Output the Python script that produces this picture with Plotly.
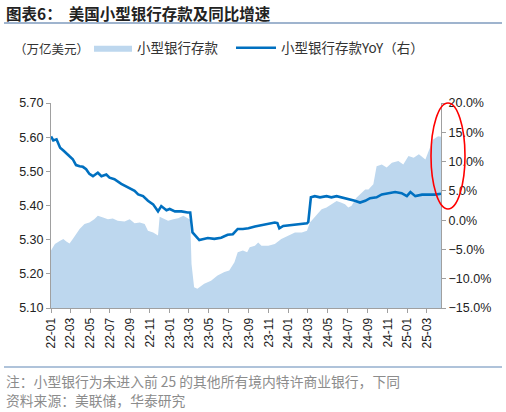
import plotly.graph_objects as go

# small bank deposits, trillion USD (left axis)
dep_dates = ["2022-01-01", "2022-01-13", "2022-01-29", "2022-02-08", "2022-02-17", "2022-02-27",
             "2022-03-09", "2022-03-19", "2022-03-30", "2022-04-14", "2022-04-29", "2022-05-14",
             "2022-05-25", "2022-06-10", "2022-06-25", "2022-07-10", "2022-07-25", "2022-08-15",
             "2022-08-31", "2022-09-15", "2022-10-01", "2022-10-16", "2022-10-26", "2022-11-11",
             "2022-11-26", "2022-12-01", "2022-12-11", "2022-12-27", "2023-01-12", "2023-01-27",
             "2023-02-12", "2023-02-27", "2023-03-05", "2023-03-09", "2023-03-17", "2023-03-27",
             "2023-04-17", "2023-05-08", "2023-05-28", "2023-06-18", "2023-07-03", "2023-07-19",
             "2023-07-29", "2023-08-14", "2023-08-27", "2023-09-04", "2023-09-20", "2023-09-30",
             "2023-10-10", "2023-10-31", "2023-11-20", "2023-12-10", "2024-01-01", "2024-01-21",
             "2024-02-11", "2024-02-27", "2024-03-07", "2024-03-22", "2024-04-12", "2024-04-27",
             "2024-05-12", "2024-05-28", "2024-06-12", "2024-06-23", "2024-07-03", "2024-07-13",
             "2024-07-28", "2024-08-13", "2024-08-24", "2024-09-03", "2024-09-18", "2024-09-28",
             "2024-10-14", "2024-10-29", "2024-11-14", "2024-12-04", "2024-12-19", "2025-01-04",
             "2025-01-20", "2025-02-05", "2025-02-25", "2025-03-11", "2025-03-21", "2025-04-05",
             "2025-04-14"]
dep_vals = [5.268, 5.287, 5.297, 5.302, 5.295, 5.289,
            5.302, 5.316, 5.331, 5.346, 5.350, 5.360,
            5.370, 5.365, 5.360, 5.362, 5.355, 5.353,
            5.360, 5.348, 5.350, 5.346, 5.326, 5.321,
            5.312, 5.367, 5.362, 5.355, 5.360, 5.363,
            5.370, 5.360, 5.358, 5.229, 5.161, 5.156,
            5.171, 5.180, 5.195, 5.205, 5.210, 5.234,
            5.263, 5.268, 5.263, 5.278, 5.282, 5.292,
            5.282, 5.282, 5.287, 5.302, 5.312, 5.321,
            5.321, 5.326, 5.350, 5.365, 5.389, 5.394,
            5.404, 5.413, 5.408, 5.404, 5.394, 5.399,
            5.423, 5.438, 5.447, 5.447, 5.462, 5.515,
            5.520, 5.511, 5.525, 5.530, 5.520, 5.545,
            5.540, 5.550, 5.535, 5.569, 5.593, 5.603,
            5.601]

# YoY growth, % (right axis)
yoy_dates = ["2022-01-01", "2022-01-08", "2022-01-18", "2022-01-29", "2022-02-08", "2022-02-17",
             "2022-02-27", "2022-03-09", "2022-03-19", "2022-03-30", "2022-04-09", "2022-04-19",
             "2022-04-29", "2022-05-10", "2022-05-25", "2022-06-05", "2022-06-20", "2022-06-30",
             "2022-07-15", "2022-08-05", "2022-08-26", "2022-09-15", "2022-09-26", "2022-10-11",
             "2022-10-26", "2022-11-11", "2022-11-26", "2022-12-06", "2022-12-22", "2023-01-01",
             "2023-01-17", "2023-02-06", "2023-02-25", "2023-03-05", "2023-03-12", "2023-04-02",
             "2023-04-28", "2023-05-18", "2023-06-08", "2023-06-28", "2023-07-14", "2023-07-29",
             "2023-08-14", "2023-08-31", "2023-09-20", "2023-10-20", "2023-11-20", "2023-11-28",
             "2023-12-04", "2023-12-16", "2024-01-11", "2024-02-01", "2024-02-27", "2024-03-02",
             "2024-03-10", "2024-03-22", "2024-04-07", "2024-04-27", "2024-05-12", "2024-05-28",
             "2024-06-12", "2024-07-03", "2024-07-23", "2024-08-08", "2024-08-24", "2024-09-08",
             "2024-09-28", "2024-10-14", "2024-11-04", "2024-11-24", "2024-12-14", "2024-12-30",
             "2025-01-10", "2025-01-25", "2025-02-15", "2025-03-05", "2025-03-26", "2025-04-14"]
yoy_vals = [14.3, 13.6, 13.8, 12.35, 11.9, 11.5,
            10.9, 10.4, 9.4, 9.2, 9.1, 8.7,
            7.9, 7.5, 8.1, 7.5, 7.8, 7.25,
            7.0, 6.2, 5.55, 5.0, 4.4, 4.1,
            3.3, 2.7, 1.5, 2.4, 1.7, 1.9,
            1.5, 1.5, 1.3, 1.3, -2.1, -3.4,
            -3.05, -3.2, -3.0, -2.5, -2.4, -1.5,
            -1.5, -1.4, -1.1, -0.7, -0.4, -0.5,
            -1.4, -1.0, -0.8, -0.7, -0.55, -0.3,
            3.9, 4.1, 3.9, 4.1, 3.9, 4.1,
            3.9, 3.6, 3.3, 3.0, 3.3, 3.75,
            3.9, 4.4, 4.6, 4.8, 4.6, 4.1,
            4.8, 4.1, 4.35, 4.35, 4.35, 4.5]

tick_vals = ["2022-01-01", "2022-03-01", "2022-05-01", "2022-07-01", "2022-09-01", "2022-11-01",
             "2023-01-01", "2023-03-01", "2023-05-01", "2023-07-01", "2023-09-01", "2023-11-01",
             "2024-01-01", "2024-03-01", "2024-05-01", "2024-07-01", "2024-09-01", "2024-11-01",
             "2025-01-01", "2025-03-01"]
tick_text = ["22-01", "22-03", "22-05", "22-07", "22-09", "22-11",
             "23-01", "23-03", "23-05", "23-07", "23-09", "23-11",
             "24-01", "24-03", "24-05", "24-07", "24-09", "24-11",
             "25-01", "25-03"]

W, H = 506, 412
ML, MR, MT, MB = 51, 65, 103, 104
pw, ph = W - ML - MR, H - MT - MB


def px(x):
    return (x - ML) / pw


def py(y):
    return (H - MB - y) / ph


num_font = "Liberation Sans, Arial, sans-serif"
cjk_font = "Noto Sans CJK SC, sans-serif"
leg_font = dict(family=cjk_font, size=13.5, color="#333")

fig = go.Figure()
fig.add_trace(go.Scatter(
    x=dep_dates, y=dep_vals, name="小型银行存款",
    mode="lines", fill="tozeroy", fillcolor="#BDD7EE",
    line=dict(width=0, color="#BDD7EE"), legend="legend",
))
fig.add_trace(go.Scatter(
    x=yoy_dates, y=yoy_vals, name="小型银行存款YoY（右）",
    mode="lines", line=dict(width=2.6, color="#0070C0"), yaxis="y2", legend="legend2",
))

axis_common = dict(showgrid=False, zeroline=False, showline=True, linecolor="#A0A0A0",
                   linewidth=1, ticks="outside", ticklen=4, tickcolor="#A0A0A0",
                   tickfont=dict(family=num_font, size=12.5, color="#222"))

fig.update_layout(
    width=W, height=H,
    margin=dict(l=ML, r=MR, t=MT, b=MB),
    paper_bgcolor="white", plot_bgcolor="white",
    xaxis=dict(axis_common, type="date", range=["2022-01-01", "2025-04-14"],
               tickvals=tick_vals, ticktext=tick_text, tickangle=-90,
               tickfont=dict(family=num_font, size=12, color="#222")),
    yaxis=dict(axis_common, range=[5.10, 5.70], dtick=0.1, tickformat=".2f"),
    yaxis2=dict(axis_common, overlaying="y", side="right", range=[-15, 20], dtick=5,
                tickformat=".1f", ticksuffix="%"),
    legend=dict(orientation="h", x=px(89), y=py(48), xanchor="left", yanchor="middle",
                itemwidth=38, font=leg_font, bgcolor="rgba(0,0,0,0)"),
    legend2=dict(orientation="h", x=px(231), y=py(48), xanchor="left", yanchor="middle",
                 itemwidth=40, font=leg_font, bgcolor="rgba(0,0,0,0)"),
    showlegend=True,
)

fig.add_annotation(x=px(4), y=py(13), xref="paper", yref="paper", xanchor="left", yanchor="middle",
                   text="<b>图表6：  美国小型银行存款及同比增速</b>", showarrow=False,
                   font=dict(family=cjk_font, size=15.5, color="#222"))
fig.add_annotation(x=px(12), y=py(48), xref="paper", yref="paper", xanchor="left", yanchor="middle",
                   text="（万亿美元）", showarrow=False,
                   font=dict(family=cjk_font, size=12.5, color="#333"))
fig.add_annotation(x=px(4), y=py(381), xref="paper", yref="paper", xanchor="left", yanchor="middle",
                   text="注：小型银行为未进入前 25 的其他所有境内特许商业银行，下同", showarrow=False,
                   font=dict(family=cjk_font, size=13.8, color="#8C8C8C"))
fig.add_annotation(x=px(4), y=py(400), xref="paper", yref="paper", xanchor="left", yanchor="middle",
                   text="资料来源：美联储，华泰研究", showarrow=False,
                   font=dict(family=cjk_font, size=13.8, color="#8C8C8C"))

fig.add_shape(type="line", xref="paper", yref="paper", x0=px(4), x1=px(502), y0=py(23), y1=py(23),
              line=dict(color="#7F9BBE", width=1.5))
fig.add_shape(type="line", xref="paper", yref="paper", x0=px(4), x1=px(502), y0=py(367), y1=py(367),
              line=dict(color="#AFC3DA", width=2))
fig.add_shape(type="circle", xref="paper", yref="paper", x0=px(431), x1=px(465), y0=py(209), y1=py(103),
              line=dict(color="#FF0000", width=1.6))

fig.write_html("out.html", config={"displayModeBar": False},
               post_script="document.body.style.margin='0';")
